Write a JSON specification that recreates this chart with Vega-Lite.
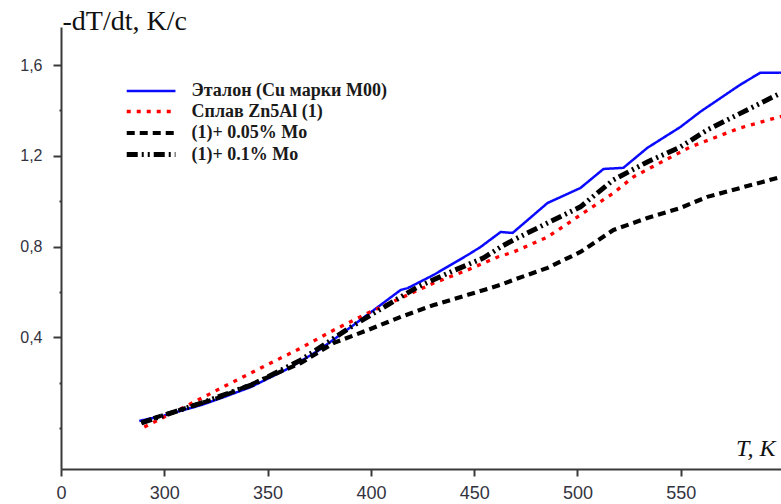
{
  "$schema": "https://vega.github.io/schema/vega-lite/v6.json",
  "width": 720,
  "height": 442,
  "autosize": {"type": "none"},
  "padding": {"left": 61, "top": 27, "right": 0, "bottom": 35},
  "background": "white",
  "config": {"view": {"stroke": null}},
  "data": {"values": [
    {"T": 287.9, "v": 0.031, "s": "Эталон (Cu марки М00)"},
    {"T": 300.0, "v": 0.055, "s": "Эталон (Cu марки М00)"},
    {"T": 317.9, "v": 0.101, "s": "Эталон (Cu марки М00)"},
    {"T": 330.0, "v": 0.140, "s": "Эталон (Cu марки М00)"},
    {"T": 342.0, "v": 0.181, "s": "Эталон (Cu марки М00)"},
    {"T": 360.0, "v": 0.262, "s": "Эталон (Cu марки М00)"},
    {"T": 374.4, "v": 0.340, "s": "Эталон (Cu марки М00)"},
    {"T": 390.3, "v": 0.445, "s": "Эталон (Cu марки М00)"},
    {"T": 404.8, "v": 0.543, "s": "Эталон (Cu марки М00)"},
    {"T": 414.5, "v": 0.609, "s": "Эталон (Cu марки М00)"},
    {"T": 417.9, "v": 0.617, "s": "Эталон (Cu марки М00)"},
    {"T": 430.4, "v": 0.675, "s": "Эталон (Cu марки М00)"},
    {"T": 446.9, "v": 0.763, "s": "Эталон (Cu марки М00)"},
    {"T": 453.1, "v": 0.798, "s": "Эталон (Cu марки М00)"},
    {"T": 462.8, "v": 0.864, "s": "Эталон (Cu марки М00)"},
    {"T": 468.6, "v": 0.860, "s": "Эталон (Cu марки М00)"},
    {"T": 485.5, "v": 0.992, "s": "Эталон (Cu марки М00)"},
    {"T": 501.4, "v": 1.058, "s": "Эталон (Cu марки М00)"},
    {"T": 512.6, "v": 1.142, "s": "Эталон (Cu марки М00)"},
    {"T": 522.2, "v": 1.147, "s": "Эталон (Cu марки М00)"},
    {"T": 533.8, "v": 1.235, "s": "Эталон (Cu марки М00)"},
    {"T": 549.8, "v": 1.327, "s": "Эталон (Cu марки М00)"},
    {"T": 559.4, "v": 1.394, "s": "Эталон (Cu марки М00)"},
    {"T": 578.7, "v": 1.513, "s": "Эталон (Cu марки М00)"},
    {"T": 588.4, "v": 1.566, "s": "Эталон (Cu марки М00)"},
    {"T": 598.6, "v": 1.566, "s": "Эталон (Cu марки М00)"},

    {"T": 290.3, "v": 0.004, "s": "Сплав Zn5Al (1)"},
    {"T": 311.6, "v": 0.101, "s": "Сплав Zn5Al (1)"},
    {"T": 327.5, "v": 0.176, "s": "Сплав Zn5Al (1)"},
    {"T": 346.9, "v": 0.265, "s": "Сплав Zn5Al (1)"},
    {"T": 366.2, "v": 0.353, "s": "Сплав Zn5Al (1)"},
    {"T": 382.1, "v": 0.432, "s": "Сплав Zn5Al (1)"},
    {"T": 398.6, "v": 0.507, "s": "Сплав Zn5Al (1)"},
    {"T": 414.5, "v": 0.573, "s": "Сплав Zn5Al (1)"},
    {"T": 430.4, "v": 0.639, "s": "Сплав Zn5Al (1)"},
    {"T": 446.9, "v": 0.697, "s": "Сплав Zn5Al (1)"},
    {"T": 461.4, "v": 0.754, "s": "Сплав Zn5Al (1)"},
    {"T": 469.1, "v": 0.776, "s": "Сплав Zn5Al (1)"},
    {"T": 485.5, "v": 0.842, "s": "Сплав Zn5Al (1)"},
    {"T": 501.4, "v": 0.939, "s": "Сплав Zn5Al (1)"},
    {"T": 517.4, "v": 1.036, "s": "Сплав Zn5Al (1)"},
    {"T": 527.1, "v": 1.107, "s": "Сплав Zn5Al (1)"},
    {"T": 535.3, "v": 1.147, "s": "Сплав Zn5Al (1)"},
    {"T": 554.6, "v": 1.239, "s": "Сплав Zn5Al (1)"},
    {"T": 578.7, "v": 1.323, "s": "Сплав Zn5Al (1)"},
    {"T": 598.6, "v": 1.374, "s": "Сплав Zn5Al (1)"},

    {"T": 288.9, "v": 0.022, "s": "(1)+ 0.05% Mo"},
    {"T": 295.2, "v": 0.044, "s": "(1)+ 0.05% Mo"},
    {"T": 327.5, "v": 0.137, "s": "(1)+ 0.05% Mo"},
    {"T": 343.5, "v": 0.198, "s": "(1)+ 0.05% Mo"},
    {"T": 366.2, "v": 0.287, "s": "(1)+ 0.05% Mo"},
    {"T": 382.1, "v": 0.375, "s": "(1)+ 0.05% Mo"},
    {"T": 398.6, "v": 0.432, "s": "(1)+ 0.05% Mo"},
    {"T": 414.5, "v": 0.490, "s": "(1)+ 0.05% Mo"},
    {"T": 430.4, "v": 0.542, "s": "(1)+ 0.05% Mo"},
    {"T": 446.9, "v": 0.587, "s": "(1)+ 0.05% Mo"},
    {"T": 462.8, "v": 0.631, "s": "(1)+ 0.05% Mo"},
    {"T": 469.1, "v": 0.653, "s": "(1)+ 0.05% Mo"},
    {"T": 485.5, "v": 0.706, "s": "(1)+ 0.05% Mo"},
    {"T": 501.4, "v": 0.776, "s": "(1)+ 0.05% Mo"},
    {"T": 517.4, "v": 0.873, "s": "(1)+ 0.05% Mo"},
    {"T": 533.8, "v": 0.926, "s": "(1)+ 0.05% Mo"},
    {"T": 549.8, "v": 0.970, "s": "(1)+ 0.05% Mo"},
    {"T": 562.8, "v": 1.019, "s": "(1)+ 0.05% Mo"},
    {"T": 598.6, "v": 1.107, "s": "(1)+ 0.05% Mo"},

    {"T": 288.9, "v": 0.022, "s": "(1)+ 0.1% Mo"},
    {"T": 317.9, "v": 0.110, "s": "(1)+ 0.1% Mo"},
    {"T": 343.5, "v": 0.194, "s": "(1)+ 0.1% Mo"},
    {"T": 366.2, "v": 0.300, "s": "(1)+ 0.1% Mo"},
    {"T": 390.3, "v": 0.445, "s": "(1)+ 0.1% Mo"},
    {"T": 414.5, "v": 0.578, "s": "(1)+ 0.1% Mo"},
    {"T": 422.7, "v": 0.622, "s": "(1)+ 0.1% Mo"},
    {"T": 438.6, "v": 0.688, "s": "(1)+ 0.1% Mo"},
    {"T": 454.6, "v": 0.750, "s": "(1)+ 0.1% Mo"},
    {"T": 462.8, "v": 0.798, "s": "(1)+ 0.1% Mo"},
    {"T": 469.1, "v": 0.829, "s": "(1)+ 0.1% Mo"},
    {"T": 485.5, "v": 0.904, "s": "(1)+ 0.1% Mo"},
    {"T": 501.4, "v": 0.975, "s": "(1)+ 0.1% Mo"},
    {"T": 517.4, "v": 1.094, "s": "(1)+ 0.1% Mo"},
    {"T": 533.8, "v": 1.173, "s": "(1)+ 0.1% Mo"},
    {"T": 549.8, "v": 1.239, "s": "(1)+ 0.1% Mo"},
    {"T": 562.8, "v": 1.314, "s": "(1)+ 0.1% Mo"},
    {"T": 594.7, "v": 1.460, "s": "(1)+ 0.1% Mo"},
    {"T": 598.6, "v": 1.477, "s": "(1)+ 0.1% Mo"}
  ]},
  "mark": {"type": "line", "clip": true, "strokeCap": "butt"},
  "encoding": {
    "x": {
      "field": "T", "type": "quantitative",
      "scale": {"domain": [250, 598.5], "nice": false, "zero": false},
      "axis": {
        "values": [250, 300, 350, 400, 450, 500, 550],
        "labelExpr": "datum.value == 250 ? '0' : datum.label",
        "grid": false,
        "domainColor": "#3a3a3a", "domainWidth": 2,
        "tickColor": "#3a3a3a", "tickWidth": 2, "tickSize": 7,
        "labelFont": "Liberation Sans", "labelFontSize": 18, "labelColor": "#333340",
        "labelPadding": 8, "labelFlush": false,
        "title": "T, K",
        "titleFont": "Liberation Serif", "titleFontStyle": "italic", "titleFontWeight": "normal",
        "titleFontSize": 24, "titleColor": "#111111",
        "titleAnchor": null, "titleAlign": "right", "titleBaseline": "alphabetic",
        "titleX": 714, "titleY": -14
      }
    },
    "y": {
      "field": "v", "type": "quantitative",
      "scale": {"domain": [-0.181, 1.768], "nice": false, "zero": false},
      "axis": {
        "values": [0, 0.2, 0.4, 0.6, 0.8, 1.0, 1.2, 1.4, 1.6],
        "labelExpr": "indexof([0.4, 0.8, 1.2, 1.6], datum.value) >= 0 ? replace(format(datum.value, '.1f'), '.', ',') : ''",
        "grid": false,
        "domainColor": "#3a3a3a", "domainWidth": 2,
        "tickColor": "#3a3a3a", "tickWidth": 2,
        "tickSize": {"condition": {"test": "indexof([0.4, 0.8, 1.2, 1.6], datum.value) >= 0", "value": 8}, "value": 2},
        "labelFont": "Liberation Sans", "labelFontSize": 16, "labelColor": "#333340",
        "labelPadding": 11,
        "title": "-dT/dt, K/c",
        "titleFont": "Liberation Serif", "titleFontWeight": "normal",
        "titleFontSize": 28, "titleColor": "#111111",
        "titleAngle": 0, "titleAnchor": null, "titleAlign": "left", "titleBaseline": "alphabetic",
        "titleX": 1, "titleY": 2
      }
    },
    "color": {
      "field": "s", "type": "nominal",
      "scale": {
        "domain": ["Эталон (Cu марки М00)", "Сплав Zn5Al (1)", "(1)+ 0.05% Mo", "(1)+ 0.1% Mo"],
        "range": ["#0a0aff", "#ff0000", "#000000", "#000000"]
      },
      "legend": {
        "title": null,
        "orient": "none", "legendX": 77.6, "legendY": 53,
        "symbolType": "M-2.5,0H2.5", "symbolSize": 380,
        "symbolFillColor": "transparent",
        "rowPadding": 0,
        "labelFont": "Liberation Serif", "labelFontWeight": "bold", "labelFontSize": 18,
        "labelColor": "#1a1a1a", "labelOffset": 28, "labelLimit": 400
      }
    },
    "strokeDash": {
      "field": "s", "type": "nominal",
      "scale": {
        "domain": ["Эталон (Cu марки М00)", "Сплав Zn5Al (1)", "(1)+ 0.05% Mo", "(1)+ 0.1% Mo"],
        "range": [[1, 0], [4, 6], [8, 5], [11, 4, 2, 4, 2, 4]]
      }
    },
    "strokeWidth": {
      "field": "s", "type": "nominal",
      "scale": {
        "domain": ["Эталон (Cu марки М00)", "Сплав Zn5Al (1)", "(1)+ 0.05% Mo", "(1)+ 0.1% Mo"],
        "range": [2.5, 5, 2, 2]
      }
    }
  }
}
